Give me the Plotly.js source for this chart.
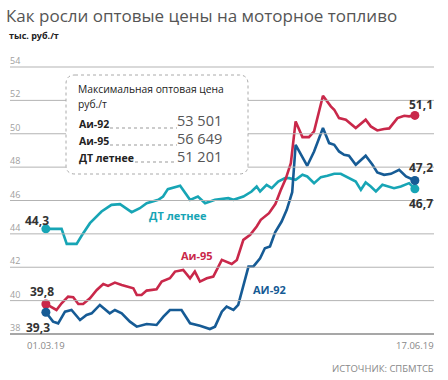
<!DOCTYPE html>
<html><head><meta charset="utf-8">
<script src="https://cdn.plot.ly/plotly-3.0.1.min.js"></script>
<style>html,body{margin:0;padding:0;background:#fff}#c{width:448px;height:380px}</style>
</head><body><div id="c"></div>
<script>
// Days since 01.03.19
var dtX = [0,4.6,6.1,9.0,10.5,12.9,16.3,19.2,21.7,25.1,27.5,29.5,32.9,34.3,35.7,38.3,39.3,42.2,44.5,46.6,49.5,53.4,54.9,57.8,60.2,61.7,62.7,64.6,66.1,68.0,70.0,71.2,73.1,75.1,76.5,78.5,80.5,82.4,84.4,86.3,88.7,90.7,92.2,93.6,95.1,96.6,98.5,100.5,101.9,103.9,105.4,106.3,108];
var dtY = [44.3,44.3,43.4,43.4,43.9,44.64,45.34,45.74,45.78,45.3,45.54,45.84,46.04,46.24,46.68,46.8,46.88,46.04,46.24,45.84,46.04,46.14,46.04,46.24,46.54,46.84,46.54,46.94,46.74,47.14,47.34,47.34,47.24,47.54,47.44,47.04,47.4,47.48,47.6,47.6,47.34,47.14,46.64,47.08,46.84,46.54,46.94,46.84,46.74,46.84,46.94,47.04,46.7];

var a95X = [0,3.1,4.6,6.5,8.0,9.5,10.9,12.9,14.9,16.8,18.2,20.2,22.2,24.1,25.6,26.6,28.0,29.5,32.4,33.9,36.3,37.8,40.2,42.2,43.6,45.1,47.1,49.0,51.5,54.4,55.9,57.8,59.8,61.7,62.9,65.3,67.2,68.7,70.2,71.7,73.1,75.1,77.0,78.5,81.1,83.4,84.4,85.8,87.8,90.7,93.6,95.1,97.0,99.0,100.5,102.9,104.9,106.3,108];
var a95Y = [39.8,39.44,39.84,40.24,40.2,39.8,39.8,40.14,40.64,41.0,40.88,41.08,40.94,40.84,40.74,40.34,40.34,40.6,40.68,41.14,41.34,41.74,41.84,41.34,41.74,41.14,41.34,41.44,42.44,42.2,42.44,43.64,43.94,44.44,44.84,45.24,45.8,46.6,47.3,48.24,50.74,49.8,49.8,50.14,52.28,51.64,51.44,50.94,50.84,50.34,50.84,50.44,50.2,50.28,50.32,50.94,51.08,51.04,51.1];

var a92X = [0,2.1,3.6,5.6,7.5,10.0,11.9,13.4,15.8,18.7,20.2,22.2,24.6,26.6,29.5,32.4,34.4,36.3,39.7,42.2,45.1,48.0,49.5,51.5,52.9,54.9,56.3,59.3,60.7,62.7,64.1,65.6,67.1,69.0,70.5,71.5,72.1,73.1,75.1,76.5,78.5,81.1,82.9,84.4,85.8,87.3,88.7,90.7,93.6,95.6,97.0,99.0,101.0,103.4,105.4,108];
var a92Y = [39.3,38.74,38.64,39.34,39.44,38.84,39.14,39.24,39.74,39.24,39.44,39.24,38.74,38.44,38.6,38.54,39.04,39.44,39.44,38.64,38.5,38.3,38.44,39.34,39.64,39.44,39.74,42.04,42.04,42.54,43.14,43.24,44.1,44.74,45.44,46.1,46.5,49.34,48.64,48.08,48.94,50.34,49.44,49.34,48.94,48.74,48.68,48.14,48.68,48.14,47.68,47.54,47.6,47.84,47.44,47.2];

var yTicks = [38,40,42,44,46,48,50,52,54];
var xTickVals = [0,108];
var xTickText = ['01.03.19','17.06.19'];
var maxNames = ['Аи-92','Аи-95','ДТ летнее'];
var maxValues = ['53 501','56 649','51 201'];

var cTeal = '#17a5b5', cRed = '#c9284a', cBlue = '#165b95';
var F = 'Open Sans, Noto Sans, sans-serif';

var xRange = [-10.5, 113.6];
var yRange = [37.88, 54.12];
var L = 10, R = 434, T = 65, B = 336;
function px(x){ return (x - L)/(R - L); }
function py(y){ return (B - y)/(B - T); }
function yFrac(v){ return (v - yRange[0])/(yRange[1] - yRange[0]); }

function line(x, y, c){
  return {x:x, y:y, type:'scatter', mode:'lines', line:{color:c, width:2.6, shape:'linear'}, hoverinfo:'skip'};
}
function ends(x, y, c){
  return {x:[x[0], x[x.length-1]], y:[y[0], y[y.length-1]], type:'scatter', mode:'markers',
    marker:{color:c, size:9}, hoverinfo:'skip', cliponaxis:false};
}
var data = [line(dtX,dtY,cTeal), line(a95X,a95Y,cRed), line(a92X,a92Y,cBlue),
  ends(dtX,dtY,cTeal), ends(a95X,a95Y,cRed), ends(a92X,a92Y,cBlue)];

var ann = [];
var shapes = [];
// grid lines from the y tick values
yTicks.forEach(function(v, k){
  shapes.push({type:'line', xref:'paper', yref:'paper', x0:0, x1:1, y0:yFrac(v), y1:yFrac(v),
    line:{color: k === 0 ? '#8a8a8a' : '#b3b3b3', width: k === 0 ? 1.3 : 1}, layer:'above'});
  ann.push({text:String(v), xref:'paper', yref:'y', x:0, y:v, xanchor:'left', yanchor:'bottom',
    showarrow:false, font:{family:F, size:9, color:'#a0a0a0'}, borderpad:0, borderwidth:0, yshift:0});
});

function txt(t, x, y, opt){
  var o = {text:t, xref:'paper', yref:'paper', x:px(x), y:py(y), showarrow:false, borderpad:0, borderwidth:0,
    xanchor:opt.xa||'left', yanchor:'middle', font:{family:opt.f||F, size:opt.s||11, color:opt.c||'#333'}};
  ann.push(o);
}
txt('<b>тыс. руб./т</b>', 9, 36, {s:9, c:'#222'});
txt('<b>44,3</b>', 37, 220, {xa:'center', s:12});
txt('<b>39,8</b>', 42, 291, {xa:'center', s:12});
txt('<b>39,3</b>', 38, 327, {xa:'center', s:12});
txt('<b>51,1</b>', 421, 104, {xa:'center', s:12});
txt('<b>47,2</b>', 421, 167, {xa:'center', s:12});
txt('<b>46,7</b>', 421, 204, {xa:'center', s:12});
txt('<b>ДТ летнее</b>', 178, 215, {xa:'center', s:11, c:cTeal});
txt('<b>Аи-95</b>', 197, 255, {xa:'center', s:11, c:cRed});
txt('<b>АИ-92</b>', 269, 289, {xa:'center', s:11, c:cBlue});
txt('ИСТОЧНИК: СПБМТСБ', 434, 368, {xa:'right', s:9.5, c:'#888'});
txt('Максимальная оптовая цена', 78, 89, {s:10.3, c:'#222'});
txt('руб./т', 78, 104, {s:10.3, c:'#222'});
var rowsY = [124, 141, 158];
var valueY = [120.5, 138.5, 156.5];
var dotStart = [110, 110, 135];
// box (drawn after the grid lines so it covers them)
(function(){
  var x0=66,x1=248,y0=75,y1=174,r=9;
  var p = 'M '+px(x0+r)+','+py(y0)+' L '+px(x1-r)+','+py(y0)+' Q '+px(x1)+','+py(y0)+' '+px(x1)+','+py(y0+r)+
    ' L '+px(x1)+','+py(y1-r)+' Q '+px(x1)+','+py(y1)+' '+px(x1-r)+','+py(y1)+
    ' L '+px(x0+r)+','+py(y1)+' Q '+px(x0)+','+py(y1)+' '+px(x0)+','+py(y1-r)+
    ' L '+px(x0)+','+py(y0+r)+' Q '+px(x0)+','+py(y0)+' '+px(x0+r)+','+py(y0)+' Z';
  shapes.push({type:'path', xref:'paper', yref:'paper', path:p, fillcolor:'#fff',
    line:{color:'#aaa', width:1, dash:'dot'}, layer:'above'});
})();
for (var i=0;i<maxNames.length;i++){
  txt('<b>'+maxNames[i]+'</b>', 79, rowsY[i], {s:10.5, c:'#222'});
  txt(maxValues[i], 177, valueY[i], {s:14.5, c:'#555'});
  shapes.push({type:'line', xref:'paper', yref:'paper', x0:px(dotStart[i]), x1:px(177),
    y0:py(rowsY[i]+4), y1:py(rowsY[i]+4), line:{color:'#999', width:1, dash:'dot'}, layer:'above'});
}

var layout = {
  width:448, height:380, paper_bgcolor:'#ffffff', plot_bgcolor:'#ffffff',
  margin:{l:L, r:448-R, t:T, b:380-B},
  showlegend:false,
  title:{text:'Как росли оптовые цены на моторное топливо', xref:'container', yref:'container',
    x:6/448, y:1-16/380, xanchor:'left', yanchor:'middle', font:{family:F, size:17, color:'#555'}},
  xaxis:{range:xRange, tickvals:xTickVals, ticktext:xTickText, showgrid:false, zeroline:false,
    showline:false, ticks:'', ticklabelstandoff:2, tickfont:{family:F, size:9.5, color:'#888'}, fixedrange:true},
  yaxis:{range:yRange, showgrid:false, zeroline:false, showline:false, showticklabels:false, ticks:'', fixedrange:true},
  annotations:ann, shapes:shapes
};
Plotly.newPlot('c', data, layout, {displayModeBar:false, staticPlot:true});
</script></body></html>
